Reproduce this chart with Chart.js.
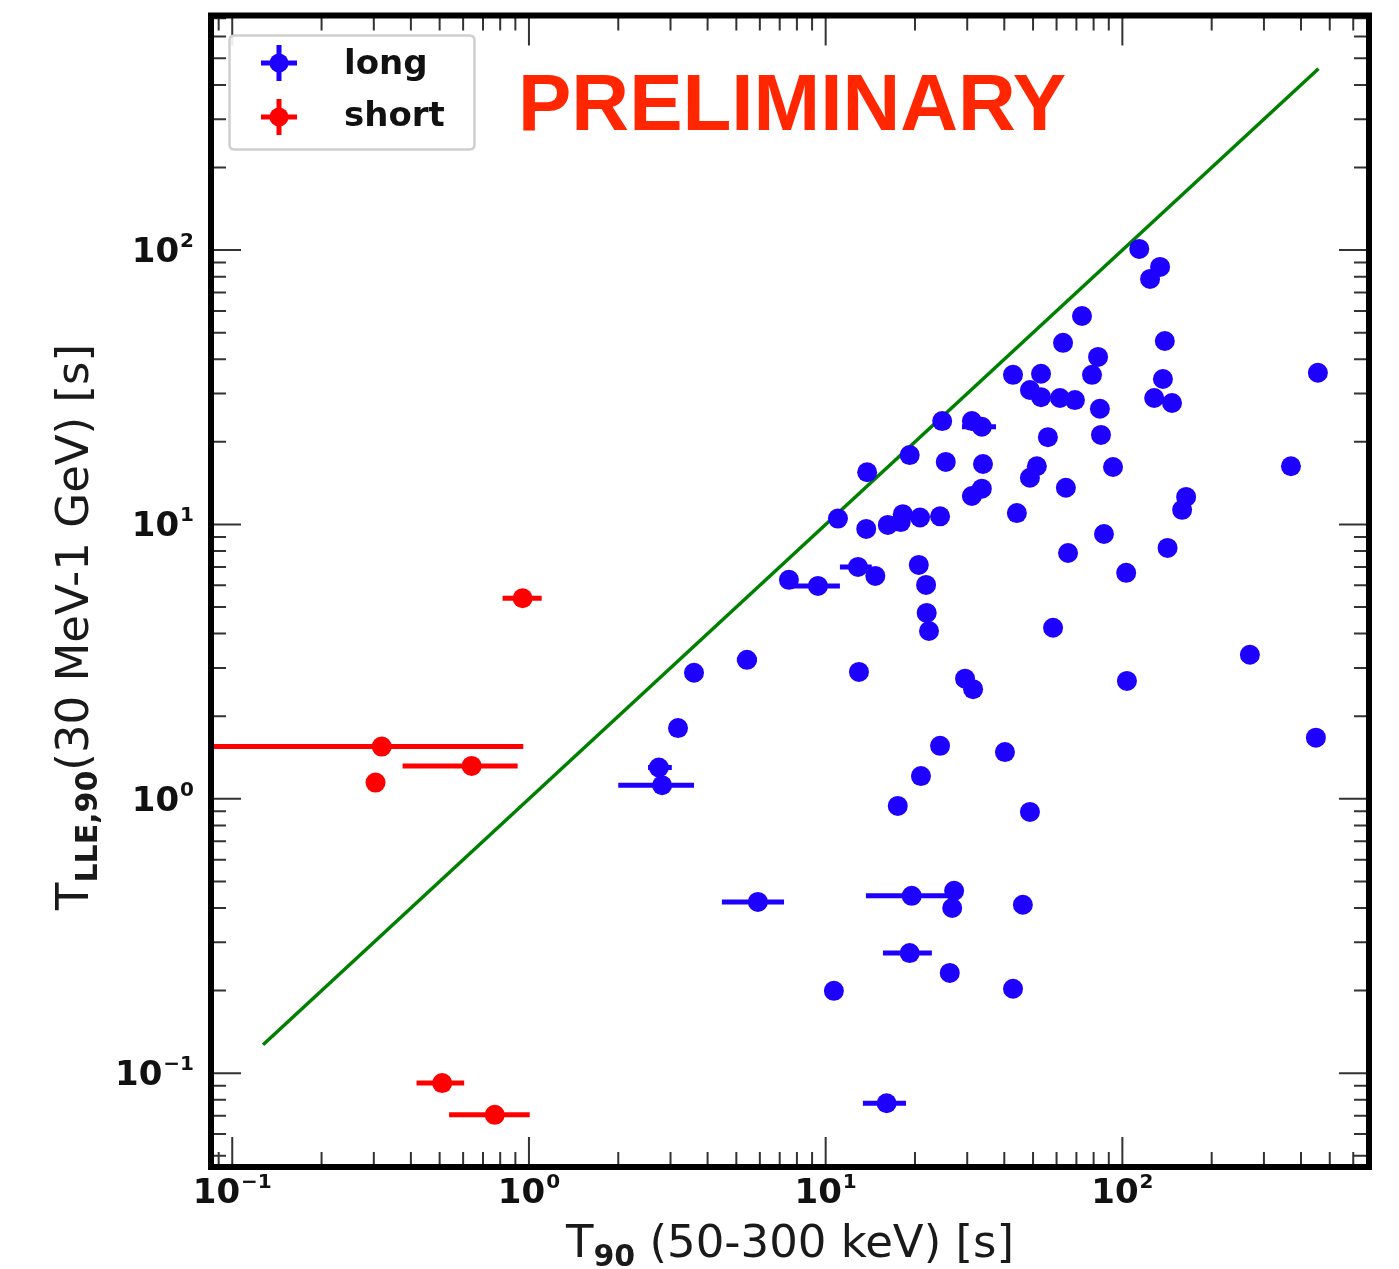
<!DOCTYPE html>
<html><head><meta charset="utf-8">
<script src="https://cdn.jsdelivr.net/npm/chart.js@4.4.1/dist/chart.umd.min.js"></script>
<style>html,body{margin:0;padding:0;background:#fff;}canvas{display:block;}</style>
</head><body>
<canvas id="c" width="1399" height="1269"></canvas>
<script>
// ---- data ----
const longT90 = [114,124,134,73.1,63.1,82.8,79.0,139,42.8,53.2,48.8,53.2,61.6,69.2,84.0,137,128,147,456,
  24.7,31.1,33.6,56.1,84.7,19.2,25.4,33.9,51.5,48.8,93.0,370,13.8,64.5,33.6,31.1,164,159,44.1,11.0,13.7,
  16.2,18.2,17.9,20.8,24.3,86.7,142,65.6,20.6,12.85,14.7,21.8,7.52,9.42,103,21.9,22.3,58.4,269,5.43,
  3.60,12.95,29.5,31.4,103.6,3.18,24.3,40.2,2.74,2.81,20.95,449,17.5,48.8,19.5,27.1,26.7,46.2,5.91,19.2,
  26.2,10.66,42.8,16.05];
const longTLLE = [101,78.5,86.8,57.5,45.9,40.8,35.1,46.6,35.1,35.4,30.9,29.1,28.9,28.4,26.4,33.9,28.9,27.7,35.7,
  23.8,23.8,22.7,20.8,21.2,17.9,16.9,16.6,16.3,14.8,16.2,16.3,15.5,13.6,13.5,12.7,12.6,11.3,11.0,10.5,9.63,
  9.96,10.9,10.2,10.6,10.7,9.23,8.21,7.87,7.12,7.0,6.49,6.02,6.28,5.97,6.66,4.76,4.09,4.20,3.35,3.21,
  2.88,2.90,2.74,2.51,2.69,1.81,1.56,1.48,1.30,1.12,1.21,1.67,0.942,0.896,0.443,0.462,0.400,0.411,0.421,0.274,
  0.232,0.1995,0.203,0.0777];
// T90 error-bar ends (null = bar hidden under the marker)
const longT90Lo = [null,null,null,null,null,null,null,null,null,null,null,null,null,null,null,null,null,null,null,
  null,null,28.8,null,null,null,null,null,null,null,null,null,null,null,null,null,null,null,null,null,null,
  null,null,null,null,null,null,null,null,null,11.17,null,null,null,7.58,null,null,null,null,null,5.02,
  null,null,null,null,null,null,null,null,2.52,2.0,null,null,null,null,13.67,null,null,null,4.47,15.6,
  null,null,null,13.35];
const longT90Hi = [null,null,null,null,null,null,null,null,null,null,null,null,null,null,null,null,null,null,null,
  null,null,37.5,null,null,null,null,null,null,null,null,null,null,null,null,null,null,null,null,null,null,
  null,null,null,null,null,null,null,null,null,14.3,null,null,null,11.17,null,null,null,null,null,5.87,
  null,null,null,null,null,null,null,null,3.03,3.6,null,null,null,null,25.8,null,null,null,7.24,22.8,
  null,null,null,18.65];

const shortT90   = [0.952,0.319,0.304,0.641,0.510,0.767];
const shortTLLE  = [5.38,1.55,1.146,1.318,0.0920,0.0705];
const shortT90Lo = [0.815,0.05,null,0.375,0.418,0.538];
const shortT90Hi = [1.104,0.957,null,0.916,0.605,1.006];

const lineT90  = [0.127, 458];   // T_LLE,90 = T90 line
const lineTLLE = [0.127, 458];

const seriesNames = ['long','short'];
const tickBases = ['10','10','10','10'];
const tickExps  = ['\u22121','0','1','2'];
const tickValues = [0.1,1,10,100];

const xTitle = ['T', '90', ' (50-300 keV) [s]'];
const yTitle = ['T', 'LLE,90', '(30 MeV-1 GeV) [s]'];
const stamp = 'PRELIMINARY';

// ---- styling ----
const BLUE = 'rgb(30,0,255)', RED = 'rgb(255,0,0)', GREEN = '#008000';
const FONT = '"DejaVu Sans", Verdana, sans-serif';

const pts = (xs, ys) => xs.map((v, i) => ({x: v, y: ys[i]}));

const decor = {
  id: 'decor',
  beforeDraw(chart) {
    const ctx = chart.ctx;
    ctx.save(); ctx.fillStyle = '#fff'; ctx.fillRect(0, 0, chart.width, chart.height); ctx.restore();
  },
  beforeDatasetsDraw(chart) {
    const {ctx, chartArea: a, scales: {x, y}} = chart;
    ctx.save();
    ctx.beginPath(); ctx.rect(a.left, a.top, a.right - a.left, a.bottom - a.top); ctx.clip();
    ctx.lineWidth = 5; ctx.lineCap = 'butt';
    chart.data.datasets.forEach(ds => {
      if (!ds.errLo) return;
      ctx.strokeStyle = ds.backgroundColor;
      ds.data.forEach((p, i) => {
        const lo = ds.errLo[i], hi = ds.errHi[i];
        if (lo == null || hi == null) return;
        const py = y.getPixelForValue(p.y);
        ctx.beginPath();
        ctx.moveTo(x.getPixelForValue(lo), py);
        ctx.lineTo(x.getPixelForValue(hi), py);
        ctx.stroke();
      });
    });
    ctx.restore();
  },
  afterDraw(chart) {
    const {ctx, chartArea: a, scales: {x, y}} = chart;
    ctx.save();
    // ticks (inward, all four sides)
    ctx.strokeStyle = '#333'; ctx.lineWidth = 2;
    const MAJ = 30, MIN = 15;
    const each = (scale, fn) => {
      for (let d = -3; d <= 3; d++) for (let m = 1; m <= 9; m++) {
        const v = m * Math.pow(10, d);
        if (v < scale.min || v > scale.max) continue;
        fn(scale.getPixelForValue(v), m === 1);
      }
    };
    ctx.beginPath();
    each(x, (px, maj) => {
      const L = maj ? MAJ : MIN;
      ctx.moveTo(px, a.bottom); ctx.lineTo(px, a.bottom - L);
      ctx.moveTo(px, a.top); ctx.lineTo(px, a.top + L);
    });
    each(y, (py, maj) => {
      const L = maj ? MAJ : MIN;
      ctx.moveTo(a.left, py); ctx.lineTo(a.left + L, py);
      ctx.moveTo(a.right, py); ctx.lineTo(a.right - L, py);
    });
    ctx.stroke();
    // frame
    ctx.strokeStyle = '#000'; ctx.lineWidth = 6;
    ctx.strokeRect(a.left, a.top, a.right - a.left, a.bottom - a.top);

    // tick labels
    ctx.fillStyle = '#111';
    const baseFont = 'bold 34px ' + FONT, expFont = 'bold 20px ' + FONT;
    const measure = (b, e) => {
      ctx.font = baseFont; const wb = ctx.measureText(b).width;
      ctx.font = expFont; const we = ctx.measureText(e).width;
      return [wb, we];
    };
    tickValues.forEach((v, i) => {
      const b = tickBases[i], e = tickExps[i];
      const [wb, we] = measure(b, e);
      ctx.textAlign = 'left'; ctx.textBaseline = 'alphabetic';
      if (v >= x.min && v <= x.max) {
        const px = x.getPixelForValue(v);
        const left = px - (wb + we + 1) / 2;
        ctx.font = baseFont; ctx.fillText(b, left, 1203);
        ctx.font = expFont; ctx.fillText(e, left + wb + 1, 1188);
      }
      if (v >= y.min && v <= y.max) {
        const py = y.getPixelForValue(v);
        const right = 194;
        const left = right - (wb + we + 1);
        ctx.font = baseFont; ctx.fillText(b, left, py + 12);
        ctx.font = expFont; ctx.fillText(e, left + wb + 1, py - 3);
      }
    });

    // axis titles
    ctx.fillStyle = '#1a1a1a';
    const mainF = '45px ' + FONT, subF = 'bold 30px ' + FONT;
    const drawTitle = (parts, cx, base, subDrop) => {
      ctx.font = mainF; const w0 = ctx.measureText(parts[0]).width, w2 = ctx.measureText(parts[2]).width;
      ctx.font = subF; const w1 = ctx.measureText(parts[1]).width;
      let lx = cx - (w0 + w1 + w2) / 2;
      ctx.textAlign = 'left'; ctx.textBaseline = 'alphabetic';
      ctx.font = mainF; ctx.fillText(parts[0], lx, base); lx += w0;
      ctx.font = subF; ctx.fillText(parts[1], lx, base + subDrop); lx += w1;
      ctx.font = mainF; ctx.fillText(parts[2], lx, base);
    };
    drawTitle(xTitle, 790, 1257, 9);
    ctx.save();
    ctx.translate(88, 627);
    ctx.rotate(-Math.PI / 2);
    drawTitle(yTitle, 0, 0, 9);
    ctx.restore();

    // legend
    const lx = 229.5, ly = 35.5, lw = 245, lh = 114, r = 5;
    ctx.beginPath();
    ctx.moveTo(lx + r, ly); ctx.lineTo(lx + lw - r, ly); ctx.quadraticCurveTo(lx + lw, ly, lx + lw, ly + r);
    ctx.lineTo(lx + lw, ly + lh - r); ctx.quadraticCurveTo(lx + lw, ly + lh, lx + lw - r, ly + lh);
    ctx.lineTo(lx + r, ly + lh); ctx.quadraticCurveTo(lx, ly + lh, lx, ly + lh - r);
    ctx.lineTo(lx, ly + r); ctx.quadraticCurveTo(lx, ly, lx + r, ly);
    ctx.fillStyle = 'rgba(255,255,255,0.9)'; ctx.fill();
    ctx.strokeStyle = '#cfcfcf'; ctx.lineWidth = 2.5; ctx.stroke();
    const items = [[BLUE, 63, 74], [RED, 117, 126]];
    items.forEach(([col, cy, tb], i) => {
      ctx.strokeStyle = col; ctx.fillStyle = col; ctx.lineWidth = 5;
      ctx.beginPath();
      ctx.moveTo(261, cy); ctx.lineTo(297, cy);
      ctx.moveTo(279, cy - 18); ctx.lineTo(279, cy + 18);
      ctx.stroke();
      ctx.beginPath(); ctx.arc(279, cy, 9.5, 0, Math.PI * 2); ctx.fill();
      ctx.fillStyle = '#111'; ctx.font = 'bold 34px ' + FONT;
      ctx.textAlign = 'left'; ctx.textBaseline = 'alphabetic';
      ctx.fillText(seriesNames[i], 344, tb);
    });

    // stamp
    ctx.fillStyle = 'rgb(255,38,0)';
    ctx.font = 'bold 80px "Liberation Sans", Arial, sans-serif';
    ctx.textAlign = 'left'; ctx.textBaseline = 'alphabetic';
    ctx.fillText(stamp, 518, 130);
    ctx.restore();
  }
};

new Chart(document.getElementById('c'), {
  type: 'scatter',
  data: {
    datasets: [
      {label: 'equality', type: 'line', data: pts(lineT90, lineTLLE), borderColor: GREEN, borderWidth: 3.5,
       pointRadius: 0, fill: false, order: 3},
      {label: seriesNames[0], data: pts(longT90, longTLLE), backgroundColor: BLUE, borderWidth: 0,
       pointRadius: 10, pointHoverRadius: 10, errLo: longT90Lo, errHi: longT90Hi, order: 2},
      {label: seriesNames[1], data: pts(shortT90, shortTLLE), backgroundColor: RED, borderWidth: 0,
       pointRadius: 10, pointHoverRadius: 10, errLo: shortT90Lo, errHi: shortT90Hi, order: 1}
    ]
  },
  options: {
    responsive: false, animation: false, devicePixelRatio: 1,
    layout: {padding: {left: 211, right: 30, top: 15.5, bottom: 102}},
    plugins: {legend: {display: false}, tooltip: {enabled: false}},
    scales: {
      x: {type: 'logarithmic', min: 0.0848, max: 678, display: false},
      y: {type: 'logarithmic', min: 0.0455, max: 716, display: false}
    }
  },
  plugins: [decor]
});
</script>
</body></html>
